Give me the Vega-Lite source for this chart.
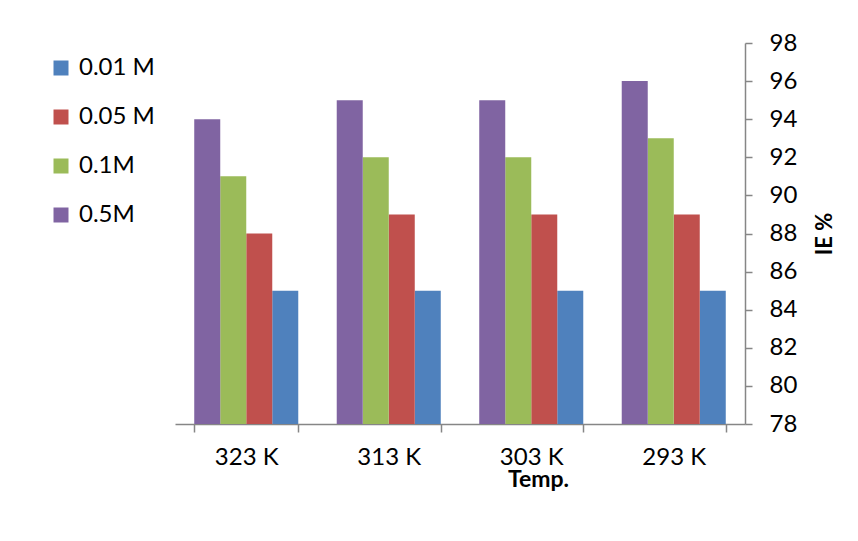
{
  "$schema": "https://vega.github.io/schema/vega-lite/v6.json",
  "autosize": {"type": "none"},
  "width": 570,
  "height": 381,
  "padding": {"left": 175, "top": 43, "right": 113, "bottom": 117},
  "background": "white",
  "config": {
    "view": {"stroke": null},
    "font": "Lato",
    "axis": {"grid": false, "domainColor": "#868686", "tickColor": "#868686", "labelColor": "#000000", "titleColor": "#000000", "labelFont": "Lato", "titleFont": "Lato"}
  },
  "data": {
    "values": [
      {"temp": "323 K", "conc": "0.01 M", "ie": 85},
      {"temp": "323 K", "conc": "0.05 M", "ie": 88},
      {"temp": "323 K", "conc": "0.1M", "ie": 91},
      {"temp": "323 K", "conc": "0.5M", "ie": 94},
      {"temp": "313 K", "conc": "0.01 M", "ie": 85},
      {"temp": "313 K", "conc": "0.05 M", "ie": 89},
      {"temp": "313 K", "conc": "0.1M", "ie": 92},
      {"temp": "313 K", "conc": "0.5M", "ie": 95},
      {"temp": "303 K", "conc": "0.01 M", "ie": 85},
      {"temp": "303 K", "conc": "0.05 M", "ie": 89},
      {"temp": "303 K", "conc": "0.1M", "ie": 92},
      {"temp": "303 K", "conc": "0.5M", "ie": 95},
      {"temp": "293 K", "conc": "0.01 M", "ie": 85},
      {"temp": "293 K", "conc": "0.05 M", "ie": 89},
      {"temp": "293 K", "conc": "0.1M", "ie": 93},
      {"temp": "293 K", "conc": "0.5M", "ie": 96}
    ]
  },
  "mark": {"type": "bar"},
  "encoding": {
    "x": {
      "field": "temp", "type": "nominal",
      "sort": ["323 K", "313 K", "303 K", "293 K"],
      "scale": {"paddingInner": 0.27, "paddingOuter": 0.135},
      "axis": {
        "title": "Temp.", "labelAngle": 0, "labelFontSize": 24, "labelPadding": 13,
        "tickSize": 8, "tickBand": "extent", "domainWidth": 1.5, "tickWidth": 1.5,
        "titleFontSize": 23, "titleFontWeight": "bold",
        "titleX": 363, "titleY": 44, "titleAlign": "center", "titleBaseline": "top"
      }
    },
    "xOffset": {"field": "conc", "type": "nominal", "sort": ["0.5M", "0.1M", "0.05 M", "0.01 M"]},
    "y": {
      "field": "ie", "type": "quantitative",
      "scale": {"domain": [78, 98], "zero": false, "nice": false},
      "axis": {
        "orient": "right", "title": "IE %", "values": [78, 80, 82, 84, 86, 88, 90, 92, 94, 96, 98],
        "labelFontSize": 24, "labelPadding": 17, "tickSize": 7, "domainWidth": 1.5, "tickWidth": 1.5,
        "titleFontSize": 22, "titleFontWeight": "bold", "titlePadding": 18, "titleAngle": 270, "titleBaseline": "top"
      }
    },
    "y2": {"datum": 78},
    "color": {
      "field": "conc", "type": "nominal",
      "scale": {"domain": ["0.01 M", "0.05 M", "0.1M", "0.5M"], "range": ["#4F81BD", "#C0504D", "#9BBB59", "#8064A2"]},
      "legend": {
        "title": null, "orient": "none", "legendX": -126, "legendY": 13,
        "symbolType": "square", "symbolSize": 225, "symbolStrokeWidth": 0,
        "labelFontSize": 24, "labelOffset": 6, "rowPadding": 25, "labelColor": "#000000"
      }
    }
  }
}
